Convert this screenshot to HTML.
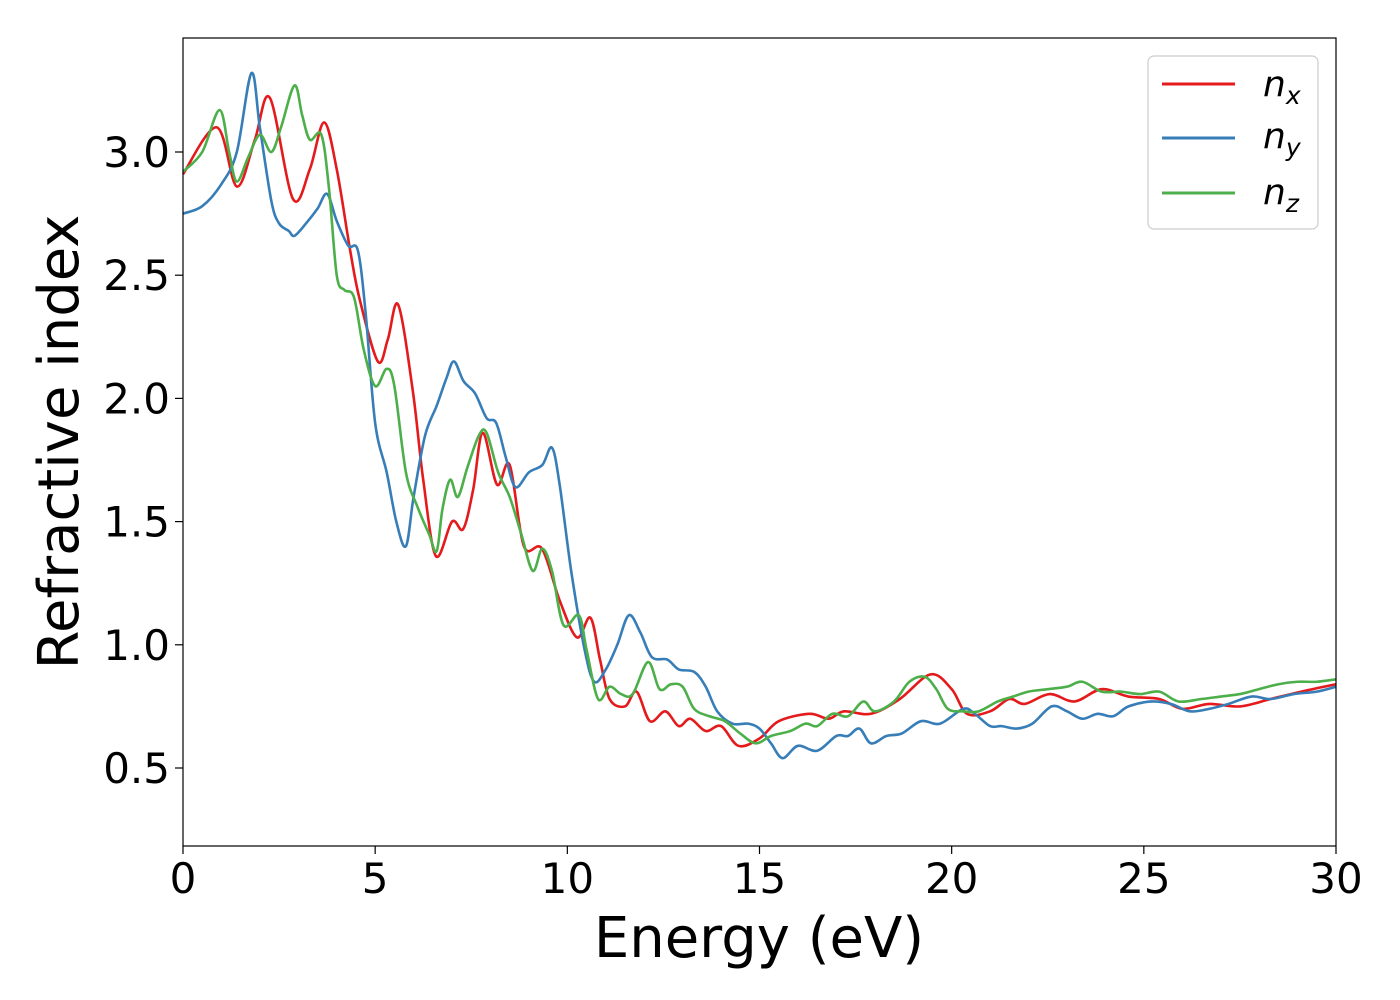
<!DOCTYPE html>
<html><head><meta charset="utf-8"><style>
body{margin:0;background:#fff;}
svg{display:block;font-family:"DejaVu Sans","Liberation Sans",sans-serif;}
</style></head><body>
<svg id="chart" width="1400" height="1000">
<rect x="0" y="0" width="1400" height="1000" fill="#fff"/>
<g id="plot"></g>
<rect x="183" y="38" width="1153" height="808" fill="none" stroke="#000" stroke-width="1.2"/>
<g id="xt"></g><g id="yt"></g>
<text x="759" y="957" font-size="56" text-anchor="middle">Energy (eV)</text>
<text transform="translate(78,442) rotate(-90)" font-size="56" text-anchor="middle">Refractive index</text>
<g>
<rect x="1148" y="56" width="170" height="173" rx="6" fill="#fff" stroke="#ccc" stroke-width="1.2"/>
<g><line x1="1162" y1="84" x2="1235" y2="84" stroke="#e41a1c" stroke-width="3"/><text x="1263" y="96" font-size="36" font-style="italic">n<tspan font-size="25" dy="8">x</tspan></text></g>
<g><line x1="1162" y1="138" x2="1235" y2="138" stroke="#377eb8" stroke-width="3"/><text x="1263" y="148" font-size="36" font-style="italic">n<tspan font-size="25" dy="8">y</tspan></text></g>
<g><line x1="1162" y1="193" x2="1235" y2="193" stroke="#4daf4a" stroke-width="3"/><text x="1263" y="204" font-size="36" font-style="italic">n<tspan font-size="25" dy="8">z</tspan></text></g>
</g>
</svg>
<script>
const xTicks=[0,5,10,15,20,25,30];
const yTicks=[0.5,1.0,1.5,2.0,2.5,3.0];
const nx=[[0,2.91],[0.88,3.10],[1.4,2.86],[1.87,3.05],[2.26,3.22],[2.86,2.81],[3.3,2.93],[3.67,3.12],[4.0,2.93],[4.35,2.60],[4.6,2.40],[5.07,2.15],[5.33,2.24],[5.6,2.38],[5.98,2.03],[6.25,1.67],[6.58,1.36],[7.0,1.50],[7.29,1.47],[7.55,1.63],[7.8,1.86],[8.17,1.65],[8.5,1.73],[8.87,1.40],[9.34,1.39],[9.8,1.18],[10.25,1.03],[10.6,1.11],[10.85,0.94],[11.1,0.78],[11.5,0.75],[11.8,0.81],[12.15,0.69],[12.55,0.73],[12.9,0.67],[13.2,0.70],[13.6,0.65],[14.0,0.67],[14.45,0.59],[15.0,0.62],[15.5,0.69],[16.3,0.72],[16.8,0.70],[17.2,0.73],[17.9,0.72],[18.65,0.78],[19.45,0.88],[20.0,0.82],[20.4,0.72],[21.0,0.73],[21.5,0.78],[21.9,0.76],[22.55,0.80],[23.2,0.77],[23.9,0.82],[24.6,0.79],[25.4,0.78],[26.0,0.74],[26.7,0.76],[27.5,0.75],[28.3,0.78],[29.1,0.81],[30,0.84]];
const ny=[[0,2.75],[0.5,2.78],[1.0,2.87],[1.4,3.0],[1.78,3.32],[2.0,3.1],[2.3,2.8],[2.5,2.71],[2.75,2.68],[2.9,2.66],[3.2,2.71],[3.5,2.77],[3.75,2.83],[4.0,2.72],[4.3,2.62],[4.55,2.6],[4.75,2.35],[5.0,1.9],[5.3,1.7],[5.55,1.5],[5.8,1.4],[6.0,1.6],[6.3,1.85],[6.6,1.97],[6.85,2.08],[7.05,2.15],[7.3,2.07],[7.6,2.02],[7.9,1.92],[8.15,1.9],[8.4,1.76],[8.65,1.64],[9.0,1.7],[9.35,1.73],[9.6,1.8],[9.8,1.65],[10.1,1.3],[10.45,0.98],[10.7,0.85],[11.0,0.9],[11.3,1.0],[11.6,1.12],[11.9,1.05],[12.2,0.95],[12.6,0.94],[12.9,0.9],[13.3,0.89],[13.6,0.83],[13.9,0.73],[14.3,0.68],[14.7,0.68],[15.0,0.66],[15.3,0.6],[15.6,0.54],[16.0,0.59],[16.5,0.57],[17.0,0.63],[17.3,0.63],[17.6,0.66],[17.9,0.6],[18.3,0.63],[18.7,0.64],[19.2,0.69],[19.7,0.68],[20.3,0.74],[20.6,0.72],[21.0,0.67],[21.3,0.67],[21.7,0.66],[22.1,0.68],[22.6,0.75],[23.0,0.73],[23.4,0.7],[23.8,0.72],[24.2,0.71],[24.6,0.75],[25.2,0.77],[25.7,0.76],[26.2,0.73],[26.7,0.74],[27.2,0.76],[27.8,0.79],[28.3,0.78],[28.9,0.8],[29.5,0.81],[30,0.83]];
const nz=[[0,2.92],[0.5,3.0],[0.95,3.17],[1.2,3.0],[1.4,2.88],[1.7,2.98],[2.0,3.07],[2.3,3.0],[2.55,3.1],[2.9,3.27],[3.1,3.15],[3.3,3.05],[3.6,3.07],[3.8,2.85],[4.0,2.5],[4.2,2.44],[4.45,2.41],[4.7,2.2],[5.0,2.05],[5.3,2.12],[5.5,2.05],[5.8,1.7],[6.1,1.56],[6.4,1.45],[6.6,1.38],[6.75,1.55],[6.95,1.67],[7.15,1.6],[7.4,1.72],[7.7,1.85],[7.9,1.86],[8.2,1.7],[8.5,1.6],[8.8,1.45],[9.1,1.3],[9.35,1.39],[9.6,1.3],[9.9,1.08],[10.3,1.12],[10.5,0.98],[10.8,0.78],[11.1,0.83],[11.4,0.8],[11.7,0.8],[12.1,0.93],[12.4,0.82],[12.7,0.84],[13.0,0.83],[13.3,0.74],[13.7,0.71],[14.1,0.69],[14.5,0.64],[14.9,0.6],[15.3,0.63],[15.8,0.65],[16.2,0.68],[16.5,0.67],[16.9,0.72],[17.3,0.71],[17.7,0.77],[18.0,0.73],[18.5,0.77],[18.9,0.85],[19.3,0.87],[19.6,0.82],[19.9,0.74],[20.3,0.73],[20.7,0.73],[21.2,0.77],[21.6,0.79],[22.0,0.81],[22.5,0.82],[23.0,0.83],[23.4,0.85],[23.9,0.81],[24.4,0.81],[24.9,0.8],[25.4,0.81],[25.9,0.77],[26.5,0.78],[27.0,0.79],[27.5,0.8],[28.0,0.82],[28.5,0.84],[29.0,0.85],[29.5,0.85],[30,0.86]];
const NS="http://www.w3.org/2000/svg";
function X(e){return 183+(e/30)*1153;}
function Y(n){return 152+(3.0-n)*246.4;}
function pathFor(d){
  const p=d.map(q=>[X(q[0]),Y(q[1])]);
  let s="M"+p[0][0]+","+p[0][1];
  for(let i=0;i<p.length-1;i++){
    const p0=p[Math.max(0,i-1)],p1=p[i],p2=p[i+1],p3=p[Math.min(p.length-1,i+2)];
    const c1=[p1[0]+(p2[0]-p0[0])/6,p1[1]+(p2[1]-p0[1])/6];
    const c2=[p2[0]-(p3[0]-p1[0])/6,p2[1]-(p3[1]-p1[1])/6];
    s+=" C"+c1[0]+","+c1[1]+" "+c2[0]+","+c2[1]+" "+p2[0]+","+p2[1];
  }
  return s;
}
const plot=document.getElementById('plot');
[[nx,'#e41a1c','series-nx'],[ny,'#377eb8','series-ny'],[nz,'#4daf4a','series-nz']].forEach(s=>{
  const el=document.createElementNS(NS,'path');
  el.setAttribute('d',pathFor(s[0]));
  el.setAttribute('fill','none');el.setAttribute('stroke',s[1]);el.setAttribute('stroke-width','2.6');
  
  
  plot.appendChild(el);
});
const xt=document.getElementById('xt');
xTicks.forEach(t=>{
  const l=document.createElementNS(NS,'line');
  l.setAttribute('x1',X(t));l.setAttribute('x2',X(t));l.setAttribute('y1',846);l.setAttribute('y2',854);l.setAttribute('stroke','#000');l.setAttribute('stroke-width','1.2');
  
  
  xt.appendChild(l);
  const tx=document.createElementNS(NS,'text');
  tx.setAttribute('x',X(t));tx.setAttribute('y',893);tx.setAttribute('font-size','42');tx.setAttribute('text-anchor','middle');
  tx.textContent=t;
  
  
  xt.appendChild(tx);
});
const yt=document.getElementById('yt');
yTicks.forEach(t=>{
  const l=document.createElementNS(NS,'line');
  l.setAttribute('x1',175);l.setAttribute('x2',183);l.setAttribute('y1',Y(t));l.setAttribute('y2',Y(t));l.setAttribute('stroke','#000');l.setAttribute('stroke-width','1.2');
  
  
  yt.appendChild(l);
  const tx=document.createElementNS(NS,'text');
  tx.setAttribute('x',170);tx.setAttribute('y',Y(t)+15);tx.setAttribute('font-size','42');tx.setAttribute('text-anchor','end');
  tx.textContent=t.toFixed(1);
  
  
  yt.appendChild(tx);
});
</script>
</body></html>
